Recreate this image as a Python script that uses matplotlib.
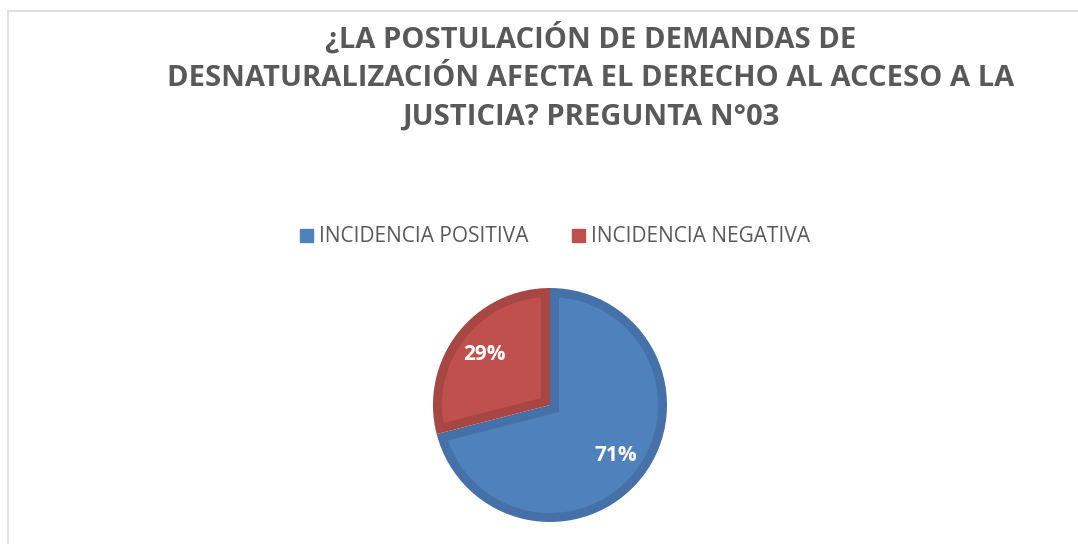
import numpy as np
import matplotlib.pyplot as plt
from matplotlib.lines import Line2D
from matplotlib.patches import Polygon

# ===============================
# DATA
# ===============================
categorias = ["INCIDENCIA POSITIVA", "INCIDENCIA NEGATIVA"]
porcentajes = [71, 29]
colores = ["#4F81BD", "#C0504D"]
bordes = ["#4571A8", "#A84643"]
titulo = ("¿LA POSTULACIÓN DE DEMANDAS DE\n"
          "DESNATURALIZACIÓN AFECTA EL DERECHO AL ACCESO A LA\n"
          "JUSTICIA? PREGUNTA N°03")

plt.rcParams["font.family"] = ["Open Sans", "DejaVu Sans"]

W, H = 1078, 544
fig = plt.figure(figsize=(W / 100, H / 100), dpi=100)

# marco del grafico (solo arriba e izquierda visibles)
fig.add_artist(Line2D([8 / W, 1], [1 - 11 / H, 1 - 11 / H], color="#d9d9d9", lw=1.2))
fig.add_artist(Line2D([8 / W, 8 / W], [0, 1 - 11 / H], color="#d9d9d9", lw=1.2))

# ===============================
# TITLE
# ===============================
fig.text(591 / W, 1 - 77 / H, titulo, ha="center", va="center",
         fontsize=21, fontweight="bold", color="#595959", linespacing=1.43)


def sector_interior(theta1, theta2, r, d):
    # sector reducido d hacia dentro (para el efecto bisel)
    t1, t2 = np.radians(theta1), np.radians(theta2)
    n1 = np.array([-np.sin(t1), np.cos(t1)])
    n2 = np.array([np.sin(t2), -np.cos(t2)])
    apex = np.linalg.solve(np.array([n1, n2]), [d, d])
    ri = r - d
    a = np.linspace(t1 + np.arcsin(d / ri), t2 - np.arcsin(d / ri), 300)
    arco = np.column_stack([ri * np.cos(a), ri * np.sin(a)])
    return np.vstack([apex, arco, apex])


# ===============================
# PIE
# ===============================
R = 117
pad = 1.05
cx, cy = 550, 405
ax = fig.add_axes([(cx - R * pad) / W, (H - cy - R * pad) / H,
                   2 * R * pad / W, 2 * R * pad / H])
wedges, textos, autotextos = ax.pie(
    porcentajes, colors=bordes, startangle=90, counterclock=False,
    autopct="%1.0f%%", pctdistance=0.71,
    textprops=dict(color="white", fontsize=15, fontweight="bold"))
for w, c, t in zip(wedges, colores, autotextos):
    ax.add_patch(Polygon(sector_interior(w.theta1, w.theta2, w.r, 9 / R),
                         closed=True, facecolor=c, edgecolor="none", zorder=w.get_zorder() + 0.1))
    t.set_zorder(5)
ax.set_xlim(-pad, pad)
ax.set_ylim(-pad, pad)
ax.set_aspect("equal")
ax.axis("off")

# ===============================
# LEGEND
# ===============================
handles = [plt.Rectangle((0, 0), 1, 1, color=c) for c in colores]
fig.legend(handles, categorias, loc="center", bbox_to_anchor=(555 / W, 1 - 237 / H),
           ncol=2, frameon=False, fontsize=15, handlelength=0.6, handleheight=0.6,
           handletextpad=0.3, columnspacing=2.1, labelcolor="#595959")

plt.savefig("out.png", dpi=100)
